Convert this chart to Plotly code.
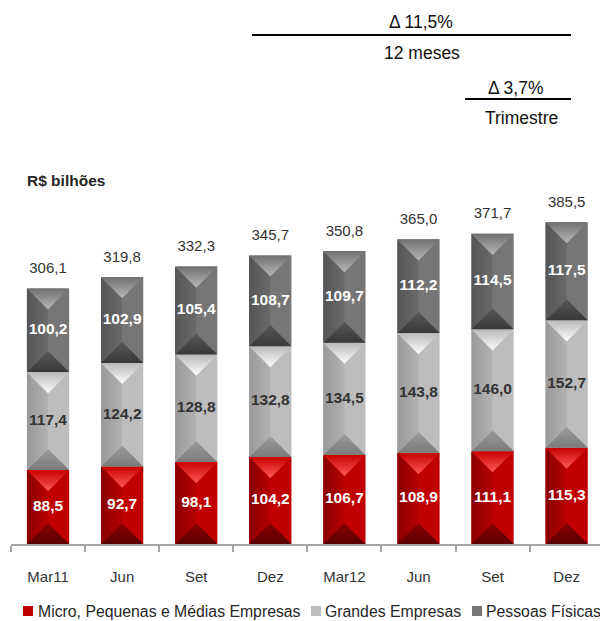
import plotly.graph_objects as go

# ---------------- data ----------------
categories = ["Mar11", "Jun", "Set", "Dez", "Mar12", "Jun", "Set", "Dez"]
micro = [88.5, 92.7, 98.1, 104.2, 106.7, 108.9, 111.1, 115.3]
grandes = [117.4, 124.2, 128.8, 132.8, 134.5, 143.8, 146.0, 152.7]
pessoas = [100.2, 102.9, 105.4, 108.7, 109.7, 112.2, 114.5, 117.5]
totals = [306.1, 319.8, 332.3, 345.7, 350.8, 365.0, 371.7, 385.5]
series_names = ["Micro, Pequenas e Médias Empresas", "Grandes Empresas", "Pessoas Físicas"]
unit_label = "R$ bilhões"
delta_12m = "Δ 11,5%"
label_12m = "12 meses"
delta_tri = "Δ 3,7%"
label_tri = "Trimestre"

# ---------------- layout constants ----------------
W, H = 600, 621
ML, MR, MT, MB = 11, 0, 170, 77
PLOT_W = W - ML - MR
PLOT_H = H - MT - MB
X_RANGE = [-0.5, 7.45]
Y_RANGE = [0, 448]
BAR_W = 0.57
FONT = "Arial, Liberation Sans, sans-serif"

px_per_x = PLOT_W / (X_RANGE[1] - X_RANGE[0])
px_per_y = PLOT_H / (Y_RANGE[1] - Y_RANGE[0])
half_w = BAR_W / 2
bevel = half_w * px_per_x / px_per_y  # 45-degree bevel in y units


def fmt(v):
    return f"{v:.1f}".replace(".", ",")


def paper_x(px):
    return (px - ML) / PLOT_W


def paper_y(py):
    return (H - MB - py) / PLOT_H


styles = [
    dict(face="#C00000", left=("#8A0000", "#B60000"), top=("#FF5A5A", "#C80000"),
         bottom=("#5A0000", "#8C0000"), txt="white"),
    dict(face="#BDBDBD", left=("#999999", "#B2B2B2"), top=("#FFFFFF", "#B8B8B8"),
         bottom=("#7A7A7A", "#9C9C9C"), txt="#333333"),
    dict(face="#767676", left=("#555555", "#6A6A6A"), top=("#B8B8B8", "#707070"),
         bottom=("#383838", "#585858"), txt="white"),
]

series = [micro, grandes, pessoas]
xs = list(range(len(categories)))

fig = go.Figure()

# bars (right face colour)
bases = [0.0] * len(xs)
seg_bases = []
for s, vals in enumerate(series):
    seg_bases.append(bases[:])
    fig.add_trace(go.Bar(
        x=xs, y=vals, base=bases[:], width=BAR_W, name=series_names[s],
        marker=dict(color=styles[s]["face"], line=dict(width=0)),
        showlegend=False, hoverinfo="skip",
    ))
    bases = [b + v for b, v in zip(bases, vals)]

# bevel faces
for s, vals in enumerate(series):
    st = styles[s]
    for i, v in enumerate(vals):
        b0 = seg_bases[s][i]
        t0 = b0 + v
        xl, xr, xc = i - half_w, i + half_w, i
        # left face
        fig.add_trace(go.Scatter(
            x=[xl, xc, xc, xl, xl], y=[t0, t0 - bevel, b0 + bevel, b0, t0],
            mode="lines", fill="toself", line=dict(width=0),
            fillgradient=dict(type="horizontal", start=xl, stop=xc,
                              colorscale=[[0, st["left"][0]], [1, st["left"][1]]]),
            showlegend=False, hoverinfo="skip"))
        # top face
        fig.add_trace(go.Scatter(
            x=[xl, xr, xc, xl], y=[t0, t0, t0 - bevel, t0],
            mode="lines", fill="toself", line=dict(width=0),
            fillgradient=dict(type="vertical", start=t0 - bevel, stop=t0,
                              colorscale=[[0, st["top"][0]], [1, st["top"][1]]]),
            showlegend=False, hoverinfo="skip"))
        # bottom face
        fig.add_trace(go.Scatter(
            x=[xl, xr, xc, xl], y=[b0, b0, b0 + bevel, b0],
            mode="lines", fill="toself", line=dict(width=0),
            fillgradient=dict(type="vertical", start=b0, stop=b0 + bevel,
                              colorscale=[[0, st["bottom"][0]], [1, st["bottom"][1]]]),
            showlegend=False, hoverinfo="skip"))

# segment labels
for s, vals in enumerate(series):
    fig.add_trace(go.Scatter(
        x=xs, y=[seg_bases[s][i] + v / 2 for i, v in enumerate(vals)],
        mode="text", text=[f"<b>{fmt(v)}</b>" for v in vals],
        textposition="middle center",
        textfont=dict(family=FONT, size=15.5, color=styles[s]["txt"]),
        showlegend=False, hoverinfo="skip"))

# total labels
tot_off = 19 / px_per_y
fig.add_trace(go.Scatter(
    x=xs, y=[t + tot_off for t in totals], mode="text",
    text=[fmt(t) for t in totals], textposition="middle center",
    textfont=dict(family=FONT, size=15, color="#333333"),
    showlegend=False, hoverinfo="skip"))

shapes = []
annotations = []

# delta annotations at the top
annotations += [
    dict(x=paper_x(421), y=paper_y(22), text=delta_12m),
    dict(x=paper_x(422), y=paper_y(53), text=label_12m),
    dict(x=paper_x(515), y=paper_y(88), text=delta_tri),
    dict(x=paper_x(521), y=paper_y(118), text=label_tri),
]
for a in annotations:
    a.update(xref="paper", yref="paper", showarrow=False, xanchor="center",
             yanchor="middle", font=dict(family=FONT, size=17.5, color="#111111"))
shapes += [
    dict(type="line", xref="paper", yref="paper", x0=paper_x(252), x1=paper_x(571),
         y0=paper_y(35), y1=paper_y(35), line=dict(color="#000000", width=2)),
    dict(type="line", xref="paper", yref="paper", x0=paper_x(465), x1=paper_x(571),
         y0=paper_y(99), y1=paper_y(99), line=dict(color="#000000", width=2)),
]

# unit label
annotations.append(dict(x=paper_x(25), y=paper_y(180), xref="paper", yref="paper",
                        text=f"<b>{unit_label}</b>", showarrow=False, xanchor="left",
                        yanchor="middle", font=dict(family=FONT, size=15.5, color="#262626")))

# legend (manual, to match compact layout)
leg_sq = [(23, 33), (311, 321), (472, 482)]
leg_tx = [36, 323, 484]
for s in range(3):
    x0, x1 = leg_sq[s]
    shapes.append(dict(type="rect", xref="paper", yref="paper",
                       x0=paper_x(x0), x1=paper_x(x1), y0=paper_y(616), y1=paper_y(606),
                       fillcolor=styles[s]["face"], line=dict(width=0)))
    annotations.append(dict(x=paper_x(leg_tx[s]), y=paper_y(611), xref="paper", yref="paper",
                            text=series_names[s], showarrow=False, xanchor="left",
                            yanchor="middle", font=dict(family=FONT, size=15.8, color="#262626")))

fig.update_layout(
    width=W, height=H,
    margin=dict(l=ML, r=MR, t=MT, b=MB, pad=0),
    paper_bgcolor="white", plot_bgcolor="white",
    showlegend=False, barmode="overlay",
    xaxis=dict(range=X_RANGE, tickmode="array", tickvals=xs, ticktext=categories,
               ticks="", showgrid=False, zeroline=False, showline=True,
               linecolor="#A6A6A6", linewidth=1.5,
               tickfont=dict(family=FONT, size=15, color="#333333"),
               ticklabelstandoff=18,
               minor=dict(ticks="outside", ticklen=6, tickcolor="#A6A6A6", tickwidth=1.5,
                          tick0=-0.5, dtick=1, showgrid=False)),
    yaxis=dict(range=Y_RANGE, visible=False, showgrid=False, zeroline=False),
    shapes=shapes, annotations=annotations,
)

fig.write_html("out.html", config={"displayModeBar": False},
               post_script="document.body.style.margin='0';document.body.style.padding='0';")
